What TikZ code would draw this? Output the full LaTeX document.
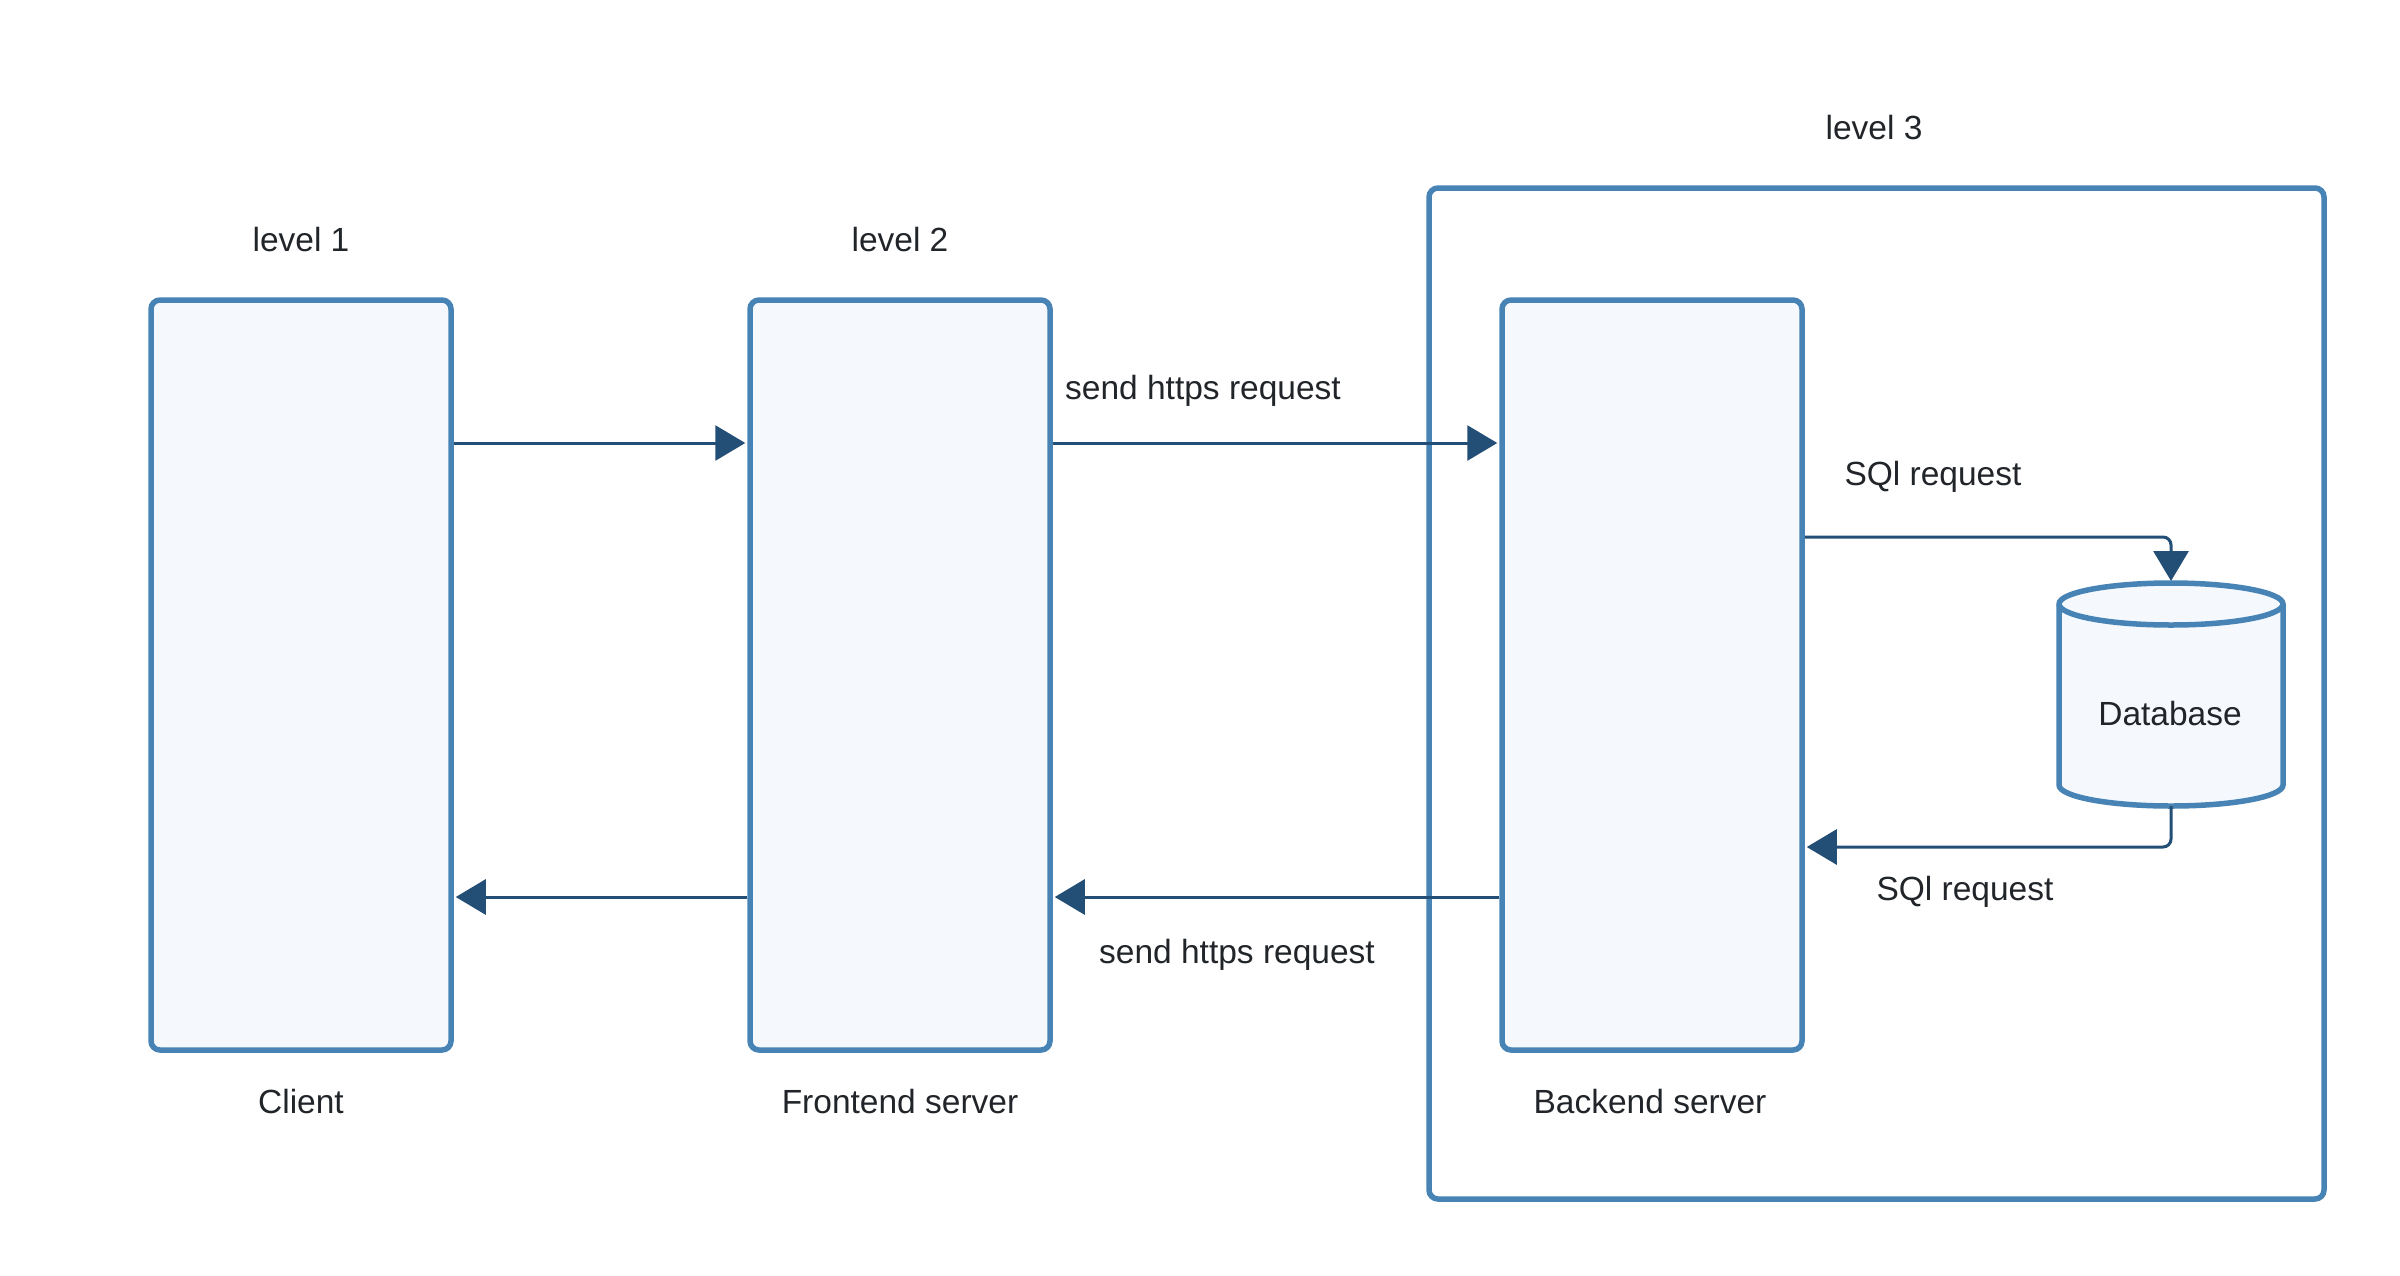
\documentclass[tikz,border=0pt]{standalone}
\usepackage{fontspec}
\setmainfont{Liberation Sans}
\usetikzlibrary{arrows.meta}
\definecolor{boxline}{RGB}{72,131,182}
\definecolor{boxfill}{RGB}{245,249,253}
\definecolor{arrowc}{RGB}{35,78,118}
\definecolor{textc}{RGB}{33,37,41}
\tikzset{
  tier/.style={draw=boxline,fill=boxfill,line width=5.5pt,rounded corners=9pt,minimum width=300pt,minimum height=750pt,inner sep=0pt},
  flow/.style={draw=arrowc,line width=3pt,shorten >=2pt,-{Triangle[length=30pt,width=35pt]}},
  lbl/.style={anchor=base,text=textc,font=\fontsize{33.5}{40}\selectfont,inner sep=0pt}
}
\begin{document}
\begin{tikzpicture}[x=1pt,y=-1pt]
\useasboundingbox (0,0) rectangle (2400,1275);
\node[draw=boxline,line width=5.5pt,rounded corners=9pt,minimum width=895pt,minimum height=1011pt,inner sep=0pt] (L3) at (1876.5,693.5) {};
\node[tier] (C) at (301,675) {};
\node[tier] (F) at (900,675) {};
\node[tier] (B) at (1652,675) {};
\draw[draw=boxline,fill=boxfill,line width=5.5pt] (2059,604) -- (2059,785) arc[start angle=180,end angle=0,x radius=112,y radius=21] -- (2283,604) arc[start angle=0,end angle=-180,x radius=112,y radius=21] -- cycle;
\draw[boxline,line width=5.5pt] (2059,604) arc[start angle=180,end angle=0,x radius=112,y radius=21];
\coordinate (Dt) at (2171,583);
\coordinate (Db) at (2171,806);
\node[lbl] (D) at (2170,725) {Database};
\node[lbl] (l1) at (301,251) {level 1};
\node[lbl] (l2) at (900,251) {level 2};
\node[lbl] (l3) at (1874,139) {level 3};
\node[lbl] (tC) at (301,1113) {Client};
\node[lbl] (tF) at (900,1113) {Frontend server};
\node[lbl] (tB) at (1650,1113) {Backend server};
\node[lbl] (s1) at (1203,399) {send https request};
\node[lbl] (s2) at (1237,963) {send https request};
\node[lbl] (q1) at (1933,485) {SQl request};
\node[lbl] (q2) at (1965,900) {SQl request};
\draw[flow] ([yshift=232pt]C.east) -- ([yshift=232pt]F.west);
\draw[flow] ([yshift=232pt]F.east) -- ([yshift=232pt]B.west);
\draw[flow] ([yshift=-222pt]B.west) -- ([yshift=-222pt]F.east);
\draw[flow] ([yshift=-222pt]F.west) -- ([yshift=-222pt]C.east);
\draw[flow,rounded corners=8pt] ([yshift=138pt]B.east) -| (Dt);
\draw[flow,rounded corners=8pt] (Db) |- ([yshift=-172pt]B.east);
\end{tikzpicture}
\end{document}
